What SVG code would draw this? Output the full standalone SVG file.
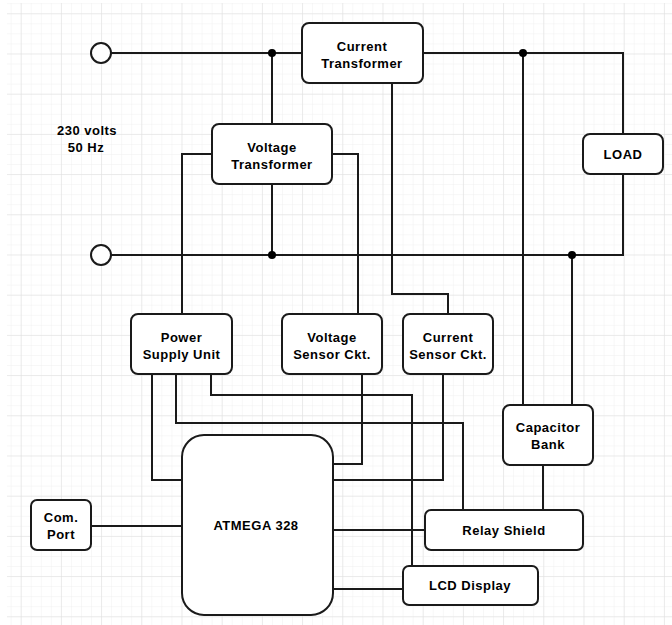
<svg xmlns="http://www.w3.org/2000/svg" width="672" height="625" viewBox="0 0 672 625">
<defs>
<pattern id="minor" x="20.7" y="13.3" width="10.05" height="10.05" patternUnits="userSpaceOnUse">
<path d="M0 0H10.05M0 0V10.05" fill="none" stroke="#f0f0f0" stroke-width="1"/>
</pattern>
<pattern id="major" x="20.7" y="13.3" width="40.2" height="40.2" patternUnits="userSpaceOnUse">
<path d="M0 0H40.2M0 0V40.2" fill="none" stroke="#dedede" stroke-width="1"/>
</pattern>
<style>
.box{fill:#fff;stroke:#1a1a1a;stroke-width:2}
.w{fill:none;stroke:#1a1a1a;stroke-width:2}
.dot{fill:#000}
text{font-family:"Liberation Sans",Arial,sans-serif;font-weight:bold;font-size:13px;letter-spacing:0.5px;fill:#000;text-anchor:middle}
</style>
</defs>
<rect width="672" height="625" fill="#fff"/>
<rect x="7" y="3" width="665" height="622" fill="url(#minor)"/>
<rect x="7" y="3" width="665" height="622" fill="url(#major)"/>

<g id="connectors">
<path class="w" d="M111 53H302M423 53H623V134M623 174V255H111"/>
<path class="w" d="M272 53V124M272 184V255"/>
<path class="w" d="M212 154H182V314M332 154H358V314"/>
<path class="w" d="M392 83V294H448V314"/>
<path class="w" d="M523 53V405M572 255V405"/>
<path class="w" d="M152 374V480H182M176 374V423H463V510M211 374V395H412V566"/>
<path class="w" d="M362 374V464H333M443 374V480H333"/>
<path class="w" d="M333 530H425M333 589H403M91 526H182M543 465V510"/>
<circle class="dot" cx="272" cy="53" r="4"/>
<circle class="dot" cx="272" cy="255" r="4"/>
<circle class="dot" cx="523" cy="53" r="4"/>
<circle class="dot" cx="572" cy="255" r="4"/>
</g>

<g id="terminal-top"><circle class="box" cx="101" cy="53" r="10"/></g>
<g id="terminal-bottom"><circle class="box" cx="101" cy="255" r="10"/></g>
<g id="supply-label"><text x="87" y="135">230 volts</text><text x="86" y="152">50 Hz</text></g>

<g id="current-transformer"><rect class="box" x="302" y="23" width="121" height="60" rx="7"/><text x="362" y="51">Current</text><text x="362" y="68">Transformer</text></g>
<g id="voltage-transformer"><rect class="box" x="212" y="124" width="120" height="60" rx="7"/><text x="272" y="152">Voltage</text><text x="272" y="169">Transformer</text></g>
<g id="load"><rect class="box" x="583" y="134" width="80" height="40" rx="7"/><text x="623" y="159">LOAD</text></g>
<g id="power-supply"><rect class="box" x="131" y="314" width="101" height="60" rx="7"/><text x="181.5" y="342">Power</text><text x="181.5" y="359">Supply Unit</text></g>
<g id="voltage-sensor"><rect class="box" x="282" y="314" width="100" height="60" rx="7"/><text x="332" y="342">Voltage</text><text x="332" y="359">Sensor Ckt.</text></g>
<g id="current-sensor"><rect class="box" x="403" y="314" width="90" height="60" rx="7"/><text x="448" y="342">Current</text><text x="448" y="359">Sensor Ckt.</text></g>
<g id="capacitor-bank"><rect class="box" x="503" y="405" width="90" height="60" rx="7"/><text x="548" y="432">Capacitor</text><text x="548" y="449">Bank</text></g>
<g id="atmega"><rect class="box" x="182" y="435" width="151" height="180" rx="22"/><text x="256" y="530">ATMEGA 328</text></g>
<g id="com-port"><rect class="box" x="31" y="500" width="60" height="50" rx="6"/><text x="61" y="522">Com.</text><text x="61" y="539">Port</text></g>
<g id="relay-shield"><rect class="box" x="425" y="510" width="158" height="40" rx="6"/><text x="504" y="535">Relay Shield</text></g>
<g id="lcd-display"><rect class="box" x="403" y="566" width="135" height="39" rx="6"/><text x="470" y="590">LCD Display</text></g>
</svg>
